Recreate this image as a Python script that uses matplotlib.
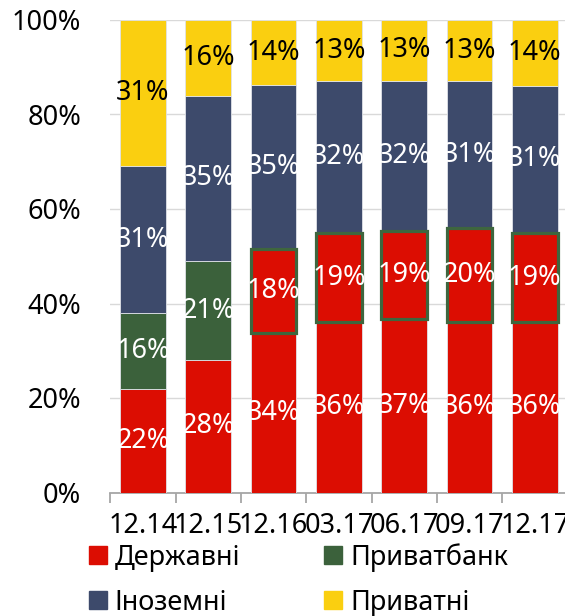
import numpy as np
import matplotlib.pyplot as plt

plt.rcParams['font.family'] = ['Noto Sans', 'DejaVu Sans']

dates = ['12.14', '12.15', '12.16', '03.17', '06.17', '09.17', '12.17']
state = [22, 28, 34, 36, 37, 36, 36]
privat = [16, 21, 18, 19, 19, 20, 19]
foreign = [31, 35, 35, 32, 32, 31, 31]
private = [31, 16, 14, 13, 13, 13, 14]
# from 12.16 Privatbank counts as state-owned
nationalized = [False, False, True, True, True, True, True]

labels = ['Державні', 'Приватбанк', 'Іноземні', 'Приватні']
colors = ['#DC0D02', '#3B613B', '#3D4A6B', '#FACF10']
text_colors = ['white', 'white', 'white', 'black']

FS = 19.5

vals = np.array([state, privat, foreign, private], dtype=float)
shares = vals / vals.sum(axis=0) * 100
x = np.arange(len(dates))

fig = plt.figure(figsize=(5.65, 6.16), dpi=100)
ax = fig.add_axes([110.4 / 565, 123.5 / 616, 457 / 565, 472.5 / 616])

bottom = np.zeros(len(dates))
for k in range(4):
    for i in range(len(dates)):
        if k == 1 and nationalized[i]:
            ax.bar(x[i], shares[k, i], 0.7, bottom=bottom[i], color=colors[0],
                   edgecolor='#3E663E', linewidth=2.3, zorder=4)
        else:
            ax.bar(x[i], shares[k, i], 0.7, bottom=bottom[i], color=colors[k],
                   edgecolor='#dfe2e8', linewidth=0.6, zorder=3)
        ax.text(x[i], bottom[i] + shares[k, i] / 2, f'{int(vals[k, i])}%',
                ha='center', va='center', color=text_colors[k], fontsize=FS, zorder=5)
    bottom += shares[k]

ax.set_xlim(-0.5, len(dates) - 0.5)
ax.set_ylim(0, 100)
ax.set_yticks(np.arange(0, 101, 20))
ax.set_yticklabels([f'{v}%' for v in range(0, 101, 20)], fontsize=FS)
ax.tick_params(axis='y', length=0, pad=21)
ax.grid(axis='y', color='#D9D9D9', linewidth=1, zorder=0)
ax.set_axisbelow(True)

ax.set_xticks(np.arange(-0.5, len(dates), 1))
ax.set_xticklabels([])
ax.set_xticks(x, minor=True)
ax.set_xticklabels(dates, minor=True, fontsize=FS)
ax.tick_params(axis='x', which='major', length=7, width=1.3, color='#A6A6A6')
ax.tick_params(axis='x', which='minor', length=0, pad=14)

for s in ['top', 'right', 'left']:
    ax.spines[s].set_visible(False)
ax.spines['bottom'].set_color('#A6A6A6')
ax.spines['bottom'].set_linewidth(1.3)

handles = [plt.Rectangle((0, 0), 1, 1, color=c) for c in colors]
order = [0, 2, 1, 3]
fig.legend([handles[i] for i in order], [labels[i] for i in order], ncol=2,
           loc='upper left', bbox_to_anchor=(89 / 565, 1 - 543 / 616),
           frameon=False, fontsize=FS, borderpad=0, borderaxespad=0,
           handlelength=0.65, handleheight=0.65, handletextpad=0.3,
           columnspacing=3.1, labelspacing=0.62)

fig.savefig('out.png', dpi=100)
